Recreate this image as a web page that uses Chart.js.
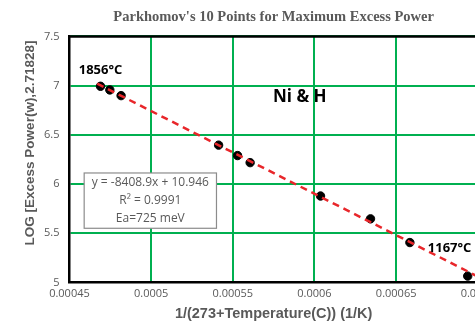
<!DOCTYPE html>
<html>
<head>
<meta charset="utf-8">
<script src="https://cdn.jsdelivr.net/npm/chart.js@4/dist/chart.umd.min.js"></script>
<style>
html,body{margin:0;padding:0;background:#fff;overflow:hidden;}
#wrap{position:relative;width:500px;height:326px;}
</style>
</head>
<body>
<div id="wrap"><canvas id="c"></canvas></div>
<script>
// ---- data ----
const invTemp = [0.000469, 0.0004747, 0.0004816, 0.0005413, 0.0005529, 0.0005606, 0.0006037, 0.0006343, 0.0006584, 0.0006938];
const logPower = [6.993, 6.956, 6.898, 6.395, 6.289, 6.217, 5.878, 5.646, 5.405, 5.064];
const trendSlope = -8408.9;
const trendIntercept = 10.946;
const trendRange = [0.000467, 0.0007];
const xTickLabels = ['0.00045', '0.0005', '0.00055', '0.0006', '0.00065', '0.0007'];
const yTickLabels = ['5', '5.5', '6', '6.5', '7', '7.5'];
const fitText = ['y = -8408.9x + 10.946', 'R\u00B2 = 0.9991', 'Ea=725 meV'];
const fitBox = {x0: 0.000459, x1: 0.00054, y0: 6.112, y1: 5.55};
const notes = [
  {text: '1856\u00B0C', x: 0.000469, y: 7.153, size: 13},
  {text: '1167\u00B0C', x: 0.0006827, y: 5.347, size: 13},
  {text: 'Ni & H', x: 0.000591, y: 6.878, size: 17}
];
const yAxisTitle = 'LOG [Excess Power(w),2.71828]';

const gray = '#595959';
const points = invTemp.map((x, i) => ({x: x, y: logPower[i]}));
const trend = trendRange.map(x => ({x: x, y: trendSlope * x + trendIntercept}));

const overlay = {
  id: 'overlay',
  afterDraw(chart) {
    const {ctx, chartArea: a, scales: {x, y}} = chart;
    ctx.save();
    // top border
    ctx.strokeStyle = '#000';
    ctx.lineWidth = 2.5;
    ctx.beginPath();
    ctx.moveTo(a.left - 1, a.top);
    ctx.lineTo(a.right + 2, a.top);
    ctx.stroke();
    // fit box
    const bx0 = x.getPixelForValue(fitBox.x0), bx1 = x.getPixelForValue(fitBox.x1);
    const by0 = y.getPixelForValue(fitBox.y0), by1 = y.getPixelForValue(fitBox.y1);
    ctx.fillStyle = '#fff';
    ctx.fillRect(bx0, by0, bx1 - bx0, by1 - by0);
    ctx.strokeStyle = '#8c8c8c';
    ctx.lineWidth = 1.2;
    ctx.strokeRect(bx0, by0, bx1 - bx0, by1 - by0);
    ctx.fillStyle = gray;
    ctx.font = '12px "Open Sans", "Liberation Sans", sans-serif';
    ctx.textAlign = 'center';
    ctx.textBaseline = 'middle';
    const cx = (bx0 + bx1) / 2;
    const lh = (by1 - by0) / 3;
    fitText.forEach((t, i) => ctx.fillText(t, cx, by0 + lh * (i + 0.5)));
    // notes
    ctx.fillStyle = '#000';
    notes.forEach(n => {
      ctx.font = 'bold ' + n.size + 'px "Open Sans", "Liberation Sans", sans-serif';
      ctx.fillText(n.text, x.getPixelForValue(n.x), y.getPixelForValue(n.y));
    });
    // y axis title
    ctx.fillStyle = gray;
    ctx.font = 'bold 13.5px "Liberation Sans", Arial, sans-serif';
    ctx.translate(30, 143);
    ctx.rotate(-Math.PI / 2);
    ctx.fillText(yAxisTitle, 0, 0);
    ctx.restore();
  }
};

new Chart(document.getElementById('c'), {
  type: 'scatter',
  data: {
    datasets: [
      {
        type: 'line',
        data: trend,
        borderColor: '#e8262a',
        borderWidth: 2.5,
        borderDash: [7, 5],
        pointRadius: 0,
        fill: false,
        order: 0
      },
      {
        data: points,
        backgroundColor: '#000',
        borderColor: '#000',
        pointRadius: 4.2,
        pointHoverRadius: 4.2,
        order: 1
      }
    ]
  },
  options: {
    responsive: true,
    maintainAspectRatio: false,
    animation: false,
    events: [],
    layout: {padding: {left: 34, top: 0, right: 0, bottom: 3}},
    plugins: {
      legend: {display: false},
      tooltip: {enabled: false},
      title: {
        display: true,
        text: "Parkhomov's 10 Points for Maximum Excess Power",
        fullSize: false,
        color: gray,
        font: {family: '"Liberation Serif", "Times New Roman", serif', size: 14.5, weight: 'bold'},
        padding: {top: 9, bottom: 10}
      }
    },
    scales: {
      x: {
        type: 'linear',
        min: 0.00045,
        max: 0.0007,
        grid: {color: '#00b050', lineWidth: 2, drawTicks: false},
        border: {color: '#000', width: 2.5},
        ticks: {
          stepSize: 0.00005,
          padding: 5,
          color: gray,
          font: {family: '"Open Sans", "Liberation Sans", sans-serif', size: 11},
          callback: (v, i) => xTickLabels[i]
        },
        title: {
          display: true,
          text: '1/(273+Temperature(C)) (1/K)',
          color: gray,
          font: {family: '"Liberation Sans", Arial, sans-serif', size: 14.5, weight: 'bold'},
          padding: {top: 0, bottom: 0}
        }
      },
      y: {
        min: 5,
        max: 7.5,
        grid: {color: '#00b050', lineWidth: 2, drawTicks: false},
        border: {color: '#000', width: 2.5},
        ticks: {
          stepSize: 0.5,
          padding: 10,
          color: gray,
          font: {family: '"Open Sans", "Liberation Sans", sans-serif', size: 11},
          callback: (v, i) => yTickLabels[i]
        }
      }
    }
  },
  plugins: [overlay]
});
</script>
</body>
</html>
